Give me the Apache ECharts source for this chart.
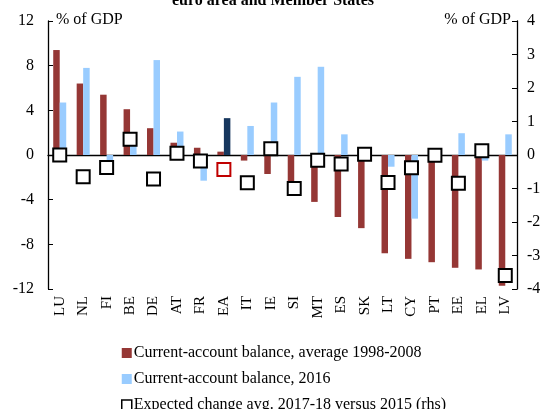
<!DOCTYPE html>
<html>
<head>
<meta charset="utf-8">
<script src="https://cdn.jsdelivr.net/npm/echarts@6/dist/echarts.min.js"></script>
<style>
  html, body { margin: 0; padding: 0; background: #fff; }
  #main { width: 546px; height: 409px; }
</style>
</head>
<body>
<div id="main"></div>
<script>
// 数据
var countries = ['LU', 'NL', 'FI', 'BE', 'DE', 'AT', 'FR', 'EA', 'IT', 'IE', 'SI', 'MT', 'ES', 'SK', 'LT', 'CY', 'PT', 'EE', 'EL', 'LV'];
var caAvg = [9.4, 6.4, 5.4, 4.1, 2.4, 1.1, 0.65, 0.3, -0.5, -1.7, -2.6, -4.2, -5.55, -6.55, -8.8, -9.3, -9.6, -10.1, -10.25, -11.7];
var ca2016 = [4.7, 7.8, -0.45, 1.0, 8.5, 2.1, -2.3, 3.3, 2.6, 4.7, 7.0, 7.9, 1.85, 0, -1.05, -5.7, 0, 1.95, -0.5, 1.85];
var expChange = [0.0, -0.65, -0.37, 0.47, -0.72, 0.05, -0.18, -0.43, -0.83, 0.19, -1.0, -0.16, -0.27, 0.02, -0.82, -0.38, -0.01, -0.84, 0.13, -3.6];
var leftTicks = [-12, 12, 4];
var rightTicks = [-4, 4, 1];

var serif = 'Liberation Serif';
var chart = echarts.init(document.getElementById('main'));

var option = {
  animation: false,
  title: {
    text: 'euro area and Member States',
    left: 'center',
    top: -12,
    textStyle: { fontFamily: serif, fontWeight: 'bold', fontSize: 16, color: '#000' }
  },
  legend: {
    orient: 'vertical',
    left: 116,
    top: 340,
    height: 100,
    itemWidth: 10,
    itemHeight: 10,
    itemGap: 10,
    textStyle: { fontFamily: serif, fontSize: 16, color: '#000', padding: [0, 0, 0, -3] },
    data: [
      { name: 'Current-account balance, average 1998-2008', icon: 'rect' },
      { name: 'Current-account balance, 2016', icon: 'rect' },
      { name: 'Expected change avg. 2017-18 versus 2015 (rhs)', icon: 'rect', itemStyle: { borderWidth: 1.5 } }
    ]
  },
  grid: { left: 48, right: 29, top: 21, bottom: 120 },
  graphic: [
    { type: 'text', left: 56, top: 12, style: { text: '% of GDP', font: '16px ' + serif, fill: '#000' } },
    { type: 'text', right: 35, top: 12, style: { text: '% of GDP', font: '16px ' + serif, fill: '#000' } }
  ],
  xAxis: [
    {
      type: 'category',
      data: countries,
      axisLine: { onZero: true, lineStyle: { color: '#000', width: 1.3 } },
      axisTick: { inside: true, length: 5, lineStyle: { color: '#000' } },
      axisLabel: { show: false }
    },
    {
      type: 'category',
      data: countries,
      position: 'bottom',
      axisLine: { show: false, onZero: false },
      axisTick: { show: false },
      axisLabel: { rotate: 90, margin: 7, fontFamily: serif, fontSize: 15, color: '#000' }
    }
  ],
  yAxis: [
    {
      type: 'value',
      min: leftTicks[0], max: leftTicks[1], interval: leftTicks[2],
      axisLine: { show: true, lineStyle: { color: '#000', width: 1.3 } },
      axisTick: { show: true, inside: true, length: 5, lineStyle: { color: '#000' } },
      axisLabel: { margin: 14, fontFamily: serif, fontSize: 16, color: '#000' },
      splitLine: { show: false }
    },
    {
      type: 'value',
      min: rightTicks[0], max: rightTicks[1], interval: rightTicks[2],
      axisLine: { show: true, lineStyle: { color: '#000', width: 1.3 } },
      axisTick: { show: true, inside: true, length: 5, lineStyle: { color: '#000' } },
      axisLabel: { margin: 10, fontFamily: serif, fontSize: 16, color: '#000' },
      splitLine: { show: false }
    }
  ],
  series: [
    {
      name: 'Current-account balance, average 1998-2008',
      type: 'bar',
      data: caAvg,
      barWidth: 6.5,
      barGap: '0%',
      itemStyle: { color: '#953735' }
    },
    {
      name: 'Current-account balance, 2016',
      type: 'bar',
      data: ca2016.map(function (v, i) {
        return countries[i] === 'EA' ? { value: v, itemStyle: { color: '#17375e' } } : v;
      }),
      barWidth: 6.5,
      itemStyle: { color: '#99ccff' }
    },
    {
      name: 'Expected change avg. 2017-18 versus 2015 (rhs)',
      type: 'scatter',
      yAxisIndex: 1,
      symbol: 'rect',
      symbolSize: 13,
      z: 5,
      data: expChange.map(function (v, i) {
        return countries[i] === 'EA' ? { value: v, itemStyle: { borderColor: '#c00000' } } : v;
      }),
      itemStyle: { color: '#fff', opacity: 1, borderColor: '#000', borderWidth: 2 }
    }
  ]
};

chart.setOption(option);
</script>
</body>
</html>
